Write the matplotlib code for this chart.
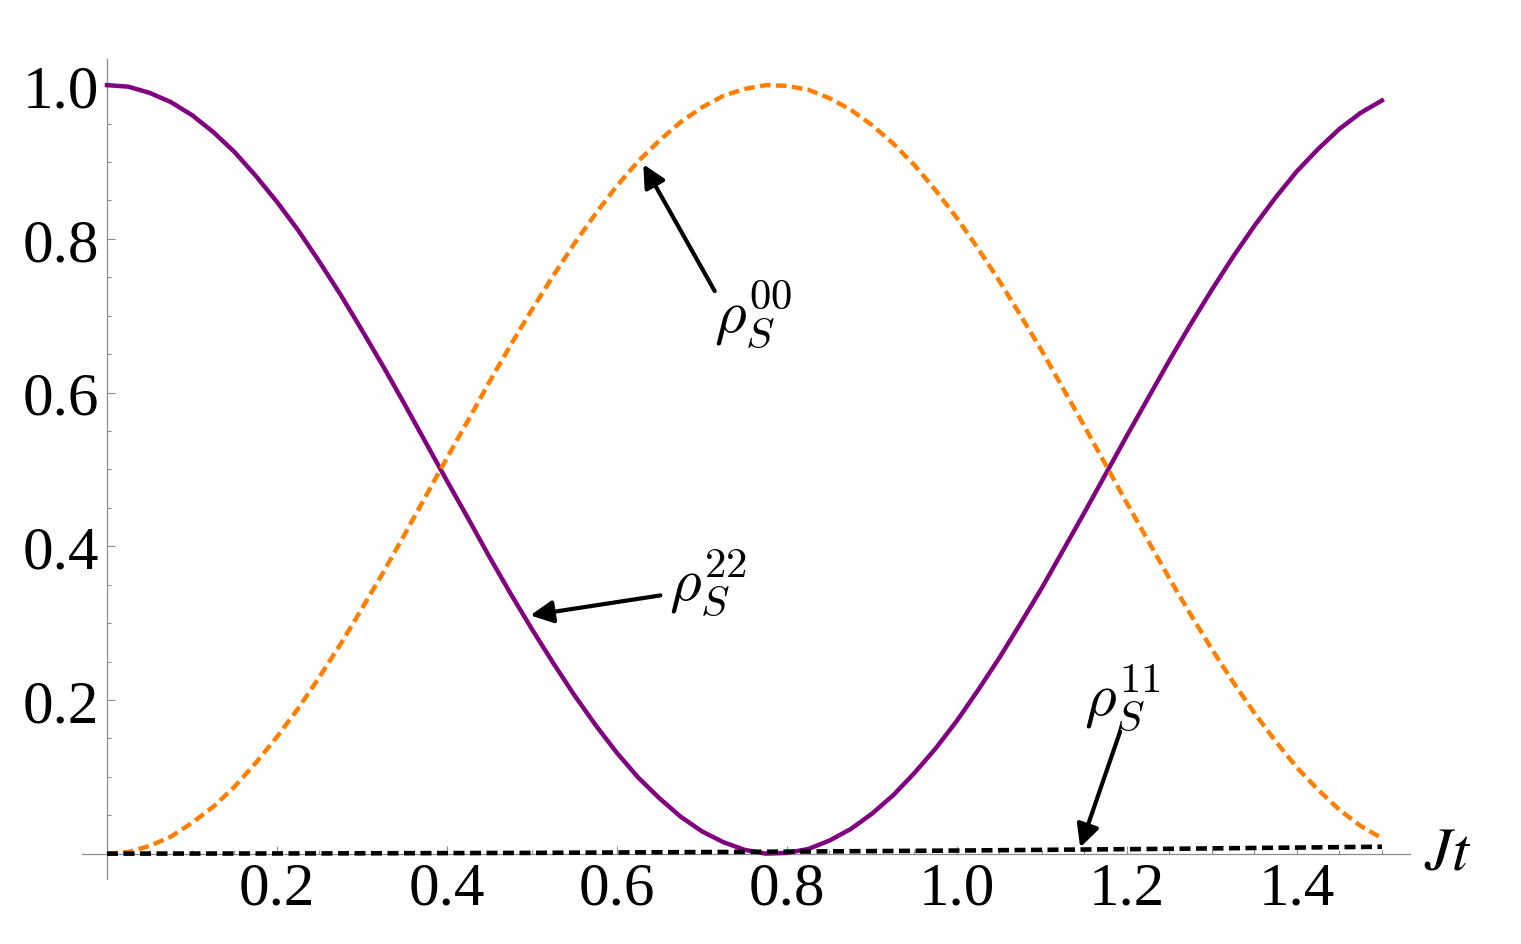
"""
Populations of the system density matrix vs. Jt (Mathematica-style axes).
"""
import matplotlib
matplotlib.use('Agg')
import matplotlib.pyplot as plt
from matplotlib.ticker import MultipleLocator, FixedLocator

plt.rcParams['font.family'] = ['Liberation Serif', 'DejaVu Serif']
plt.rcParams['mathtext.fontset'] = 'stix'

# --- data ------------------------------------------------------------------
jt = [0.000, 0.025, 0.050, 0.075, 0.100, 0.125, 0.150, 0.175, 0.200, 0.225,
      0.250, 0.275, 0.300, 0.325, 0.350, 0.375, 0.400, 0.425, 0.450, 0.475,
      0.500, 0.525, 0.550, 0.575, 0.600, 0.625, 0.650, 0.675, 0.700, 0.725,
      0.750, 0.775, 0.800, 0.825, 0.850, 0.875, 0.900, 0.925, 0.950, 0.975,
      1.000, 1.025, 1.050, 1.075, 1.100, 1.125, 1.150, 1.175, 1.200, 1.225,
      1.250, 1.275, 1.300, 1.325, 1.350, 1.375, 1.400, 1.425, 1.450, 1.475,
      1.500]

# rho_S^22 (purple, solid)
rho22 = [1.000, 0.998, 0.990, 0.978, 0.961, 0.939, 0.913, 0.882, 0.848, 0.811,
         0.770, 0.727, 0.681, 0.634, 0.585, 0.535, 0.485, 0.436, 0.386, 0.338,
         0.292, 0.248, 0.206, 0.167, 0.131, 0.099, 0.072, 0.048, 0.029, 0.015,
         0.005, 0.000, 0.001, 0.006, 0.017, 0.032, 0.052, 0.076, 0.105, 0.137,
         0.173, 0.213, 0.255, 0.300, 0.346, 0.395, 0.444, 0.494, 0.544, 0.593,
         0.642, 0.689, 0.734, 0.777, 0.817, 0.854, 0.888, 0.917, 0.943, 0.964,
         0.980]

# rho_S^00 (orange, dashed)
rho00 = [0.000, 0.002, 0.010, 0.022, 0.040, 0.061, 0.087, 0.118, 0.152, 0.189,
         0.230, 0.273, 0.319, 0.366, 0.415, 0.465, 0.515, 0.564, 0.614, 0.662,
         0.708, 0.752, 0.794, 0.833, 0.869, 0.901, 0.928, 0.952, 0.971, 0.986,
         0.995, 1.000, 0.999, 0.994, 0.983, 0.968, 0.948, 0.924, 0.896, 0.863,
         0.827, 0.787, 0.745, 0.700, 0.654, 0.605, 0.556, 0.506, 0.456, 0.407,
         0.358, 0.311, 0.266, 0.223, 0.183, 0.146, 0.112, 0.083, 0.057, 0.036,
         0.020]

# rho_S^11 (black, dashed) - barely above zero
jt11 = [0.00, 0.25, 0.50, 0.75, 1.00, 1.25, 1.50]
rho11 = [0.0000, 0.0003, 0.0010, 0.0023, 0.0040, 0.0063, 0.0090]

x_ticks = [0.2, 0.4, 0.6, 0.8, 1.0, 1.2, 1.4]
y_ticks = [0.2, 0.4, 0.6, 0.8, 1.0]

# (label, arrow tip, arrow tail, text position)
notes = [
    (r'$\rho_S^{00}$', (0.631, 0.897), (0.715, 0.732), (0.714, 0.703)),
    (r'$\rho_S^{22}$', (0.498, 0.310), (0.651, 0.336), (0.661, 0.355)),
    (r'$\rho_S^{11}$', (1.145, 0.008), (1.192, 0.159), (1.150, 0.205)),
]

PURPLE = '#800080'
ORANGE = '#ff8000'
AXIS = '#8c8c8c'

fig = plt.figure(figsize=(15.21, 9.45), dpi=100)
ax = fig.add_axes([81.5 / 1521, 65 / 945, (1410 - 81.5) / 1521, 820 / 945])
ax.set_xlim(-0.03, 1.533)
ax.set_ylim(-0.033, 1.034)

ax.plot(jt, rho22, color=PURPLE, lw=3.2, solid_joinstyle='round', zorder=3)
ax.plot(jt, rho00, color=ORANGE, lw=3.2, dashes=(2.4, 1.2), zorder=3)
ax.plot(jt11, rho11, color='black', lw=3.3, dashes=(2.4, 1.2), zorder=4)

# Mathematica-like axes through the origin
for side in ('top', 'right'):
    ax.spines[side].set_visible(False)
ax.spines['left'].set_position(('data', 0))
ax.spines['bottom'].set_position(('data', 0))
for side in ('left', 'bottom'):
    ax.spines[side].set_color(AXIS)
    ax.spines[side].set_linewidth(0.9)

ax.xaxis.set_major_locator(FixedLocator(x_ticks))
ax.yaxis.set_major_locator(FixedLocator(y_ticks))
ax.xaxis.set_minor_locator(MultipleLocator(0.05))
ax.yaxis.set_minor_locator(MultipleLocator(0.05))
ax.set_xticklabels([f'{v:.1f}' for v in x_ticks])
ax.set_yticklabels([f'{v:.1f}' for v in y_ticks])
ax.tick_params(which='both', direction='in', color=AXIS, width=0.8)
ax.tick_params(which='major', length=5.8, labelsize=44)
ax.tick_params(which='minor', length=3.0)
ax.tick_params(axis='x', which='major', pad=5)
ax.tick_params(axis='y', which='major', pad=6)

ax.text(1.549, 0.0, r'$Jt$', fontsize=44, ha='left', va='center')

for label, tip, tail, pos in notes:
    ax.annotate('', xy=tip, xytext=tail,
                arrowprops=dict(arrowstyle='-|>', color='black', lw=3.0,
                                mutation_scale=34, shrinkA=0, shrinkB=0))
    ax.text(pos[0], pos[1], label, fontsize=44, ha='left', va='center',
            math_fontfamily='cm')

fig.savefig('out.png', dpi=100, facecolor='white')
